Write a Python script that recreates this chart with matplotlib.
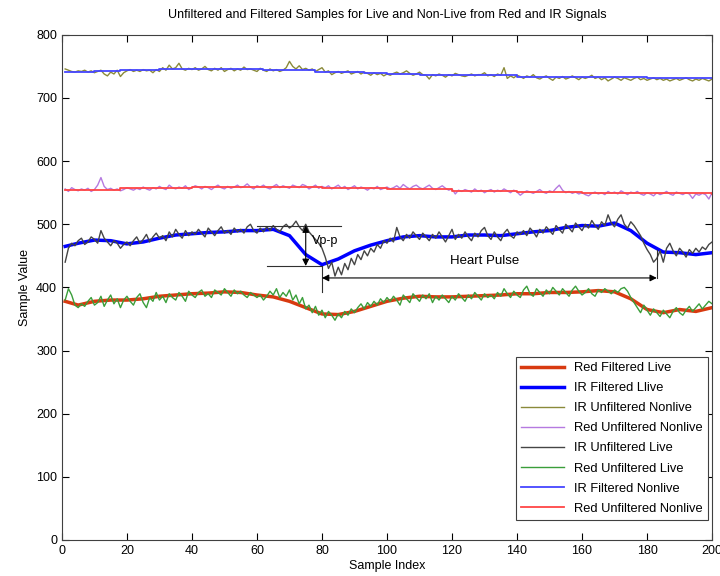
import numpy as np
import matplotlib
matplotlib.use('Agg')
import matplotlib.pyplot as plt

plt.rcParams['font.family'] = ['Liberation Sans', 'DejaVu Sans']

# サンプル番号
sample_idx = np.arange(1, 201)
filt_idx = np.array([1] + list(range(5, 201, 5)))

# フィルタ後 (Live)
red_filt_live = [378, 372, 378, 380, 380, 382, 386, 388, 390, 391, 393, 392, 388, 385,
                 378, 368, 358, 357, 362, 370, 378, 383, 386, 385, 385, 386, 387, 388,
                 390, 390, 392, 392, 393, 395, 393, 382, 365, 360, 365, 362, 368]
ir_filt_live = [465, 470, 475, 474, 469, 472, 478, 483, 485, 487, 488, 490, 490, 492,
                482, 452, 436, 445, 458, 467, 474, 480, 482, 480, 480, 483, 483, 482,
                485, 488, 490, 495, 498, 497, 502, 490, 470, 456, 455, 452, 455]

# フィルタ後 (Nonlive) 階段状
ir_filt_nonlive_idx = [1, 10, 18, 30, 45, 62, 70, 78, 93, 100, 110, 125, 140, 160, 180, 200]
ir_filt_nonlive = [741, 742, 745, 746, 746, 745, 744, 741, 739, 738, 737, 736, 734, 733, 732, 731]
red_filt_nonlive_idx = [1, 18, 27, 40, 60, 80, 100, 120, 140, 160, 180, 200]
red_filt_nonlive = [555, 557, 558, 559, 559, 558, 556, 553, 551, 549, 549, 548]

# フィルタ前
ir_unfilt_nonlive = [
    746, 744, 742, 741, 743, 742, 744, 741, 743, 740, 742, 744, 738, 735, 741, 738, 744, 734, 740, 743,
    745, 742, 744, 742, 745, 743, 744, 740, 745, 742, 748, 744, 752, 746, 748, 755, 746, 744, 747, 745,
    748, 744, 746, 750, 745, 743, 747, 744, 748, 742, 745, 747, 743, 746, 744, 749, 745, 746, 744, 742,
    747, 744, 742, 746, 743, 745, 742, 744, 748, 758, 750, 746, 751, 745, 747, 744, 746, 742, 745, 748,
    741, 743, 737, 740, 742, 739, 741, 743, 738, 740, 742, 738, 741, 739, 736, 740, 737, 739, 735, 738,
    736, 739, 741, 738, 740, 743, 739, 736, 738, 741, 737, 736, 730, 737, 735, 738, 736, 733, 737, 735,
    739, 737, 735, 734, 736, 738, 735, 737, 737, 740, 735, 737, 734, 738, 736, 748, 731, 735, 732, 736,
    734, 731, 735, 733, 737, 732, 730, 733, 735, 731, 728, 733, 731, 734, 730, 732, 735, 732, 729, 733,
    731, 733, 736, 731, 733, 729, 732, 727, 730, 733, 731, 728, 732, 730, 728, 731, 733, 729, 731, 728,
    730, 732, 729, 731, 728, 730, 727, 729, 731, 728, 730, 732, 729, 727, 730, 728, 731, 729, 727, 730]
red_unfilt_nonlive = [
    556, 552, 558, 555, 553, 556, 554, 557, 552, 555, 562, 574, 560, 555, 557, 554, 556, 553, 555, 558,
    556, 554, 557, 555, 559, 556, 554, 558, 556, 560, 557, 555, 562, 558, 556, 559, 557, 561, 555, 558,
    561, 559, 556, 560, 558, 555, 559, 562, 558, 556, 560, 557, 559, 562, 558, 560, 564, 559, 556, 561,
    559, 562, 558, 556, 560, 563, 558, 561, 559, 557, 562, 560, 558, 563, 561, 556, 559, 562, 557, 560,
    558, 561, 556, 559, 562, 557, 560, 555, 558, 561, 556, 559, 557, 554, 558, 556, 560, 555, 557, 559,
    556, 558, 561, 557, 563, 559, 556, 560, 562, 558, 556, 559, 562, 557, 555, 558, 561, 557, 554, 556,
    548, 554, 552, 555, 553, 551, 556, 552, 554, 550, 553, 555, 551, 554, 552, 556, 553, 550, 554, 551,
    546, 550, 553, 551, 549, 552, 555, 551, 549, 553, 551, 557, 562, 554, 550, 552, 549, 551, 548, 550,
    547, 545, 549, 551, 548, 550, 547, 552, 549, 551, 548, 553, 550, 547, 551, 549, 552, 548, 546, 550,
    548, 545, 550, 547, 549, 552, 548, 546, 551, 549, 547, 550, 548, 541, 548, 546, 549, 547, 540, 550]
ir_unfilt_live = [
    440, 462, 470, 466, 474, 478, 468, 472, 480, 476, 470, 490, 478, 472, 466, 474, 470, 462, 468, 472,
    466, 474, 480, 470, 476, 484, 472, 480, 486, 478, 482, 474, 488, 480, 492, 484, 478, 490, 482, 488,
    484, 492, 486, 480, 494, 488, 482, 490, 496, 486, 490, 484, 494, 488, 492, 486, 496, 500, 490, 486,
    494, 488, 496, 490, 498, 492, 488, 496, 500, 494, 498, 505, 496, 490, 500, 488, 482, 476, 470, 462,
    448, 430, 440, 418, 432, 420, 438, 428, 446, 436, 452, 444, 458, 450, 462, 456, 468, 462, 474, 470,
    478, 472, 495, 480, 474, 484, 478, 488, 482, 476, 486, 480, 474, 484, 478, 488, 480, 472, 482, 492,
    476, 484, 478, 488, 480, 474, 486, 480, 490, 495, 482, 476, 488, 480, 474, 486, 492, 482, 478, 488,
    484, 490, 482, 494, 488, 480, 492, 486, 496, 490, 484, 498, 492, 486, 500, 494, 488, 502, 496, 490,
    500, 494, 506, 498, 492, 504, 498, 515, 502, 496, 508, 515, 500, 494, 504, 498, 490, 482, 470, 460,
    452, 440, 446, 458, 440, 462, 470, 458, 450, 462, 456, 448, 460, 454, 462, 456, 464, 460, 468, 472]
red_unfilt_live = [
    380, 398, 388, 372, 368, 374, 370, 378, 384, 372, 376, 386, 370, 380, 388, 374, 382, 368, 380, 386,
    378, 372, 384, 390, 376, 368, 384, 378, 392, 380, 386, 376, 390, 384, 380, 392, 386, 378, 394, 388,
    384, 392, 396, 386, 390, 384, 396, 392, 388, 398, 392, 386, 396, 390, 394, 388, 384, 392, 388, 384,
    388, 380, 386, 394, 388, 398, 384, 392, 386, 396, 380, 388, 374, 384, 366, 372, 360, 370, 356, 364,
    352, 362, 356, 348, 358, 352, 362, 356, 366, 360, 368, 374, 366, 376, 370, 378, 372, 382, 376, 384,
    378, 386, 380, 372, 388, 382, 376, 390, 384, 378, 388, 382, 390, 376, 386, 380, 388, 382, 376, 386,
    380, 390, 384, 378, 388, 382, 392, 386, 380, 390, 384, 388, 382, 392, 386, 398, 390, 384, 394, 388,
    384, 396, 402, 390, 386, 398, 392, 386, 396, 390, 400, 394, 388, 398, 392, 386, 396, 402, 394, 388,
    392, 398, 390, 386, 396, 392, 398, 394, 390, 396, 392, 398, 400, 394, 384, 376, 368, 360, 372, 364,
    356, 366, 360, 354, 364, 358, 352, 362, 368, 360, 356, 364, 370, 362, 368, 374, 366, 372, 378, 374]

fig = plt.figure(figsize=(7.2, 5.76), dpi=100)
ax = fig.add_axes([0.086, 0.0625, 0.903, 0.877])

ax.plot(filt_idx, red_filt_live, color='#d83a10', lw=2.5, label='Red Filtered Live')
ax.plot(filt_idx, ir_filt_live, color='#0000ff', lw=2.5, label='IR Filtered Llive')
ax.plot(sample_idx, ir_unfilt_nonlive, color='#8a8a3a', lw=1, label='IR Unfiltered Nonlive')
ax.plot(sample_idx, red_unfilt_nonlive, color='#b57ae0', lw=1, label='Red Unfiltered Nonlive')
ax.plot(sample_idx, ir_unfilt_live, color='#454545', lw=1, label='IR Unfiltered Live')
ax.plot(sample_idx, red_unfilt_live, color='#3a9e3a', lw=1, label='Red Unfiltered Live')
ax.plot(ir_filt_nonlive_idx, ir_filt_nonlive, color='#4545ff', lw=1.3, drawstyle='steps-post',
        label='IR Filtered Nonlive')
ax.plot(red_filt_nonlive_idx, red_filt_nonlive, color='#ff4545', lw=1.3, drawstyle='steps-post',
        label='Red Unfiltered Nonlive')

# 注釈 (Vp-p, Heart Pulse)
ax.plot([60, 86], [498, 498], color='#303030', lw=0.8)
ax.plot([63, 80], [434, 434], color='#303030', lw=0.8)
ax.plot([80, 80], [434, 393], color='#303030', lw=0.8)
ax.plot([183, 183], [415, 460], color='#303030', lw=0.8)
ax.annotate('', xy=(75, 434), xytext=(75, 498),
            arrowprops=dict(arrowstyle='<|-|>', color='black', lw=0.8, shrinkA=0, shrinkB=0))
ax.annotate('', xy=(80, 415), xytext=(183, 415),
            arrowprops=dict(arrowstyle='<|-|>', color='black', lw=0.8, shrinkA=0, shrinkB=0))
ax.text(77, 474, 'Vp-p', fontsize=9, va='center', ha='left')
ax.text(130, 442, 'Heart Pulse', fontsize=9.5, va='center', ha='center')

ax.set_xlim(0, 200)
ax.set_ylim(0, 800)
ax.set_xticks(range(0, 201, 20))
ax.set_yticks(range(0, 801, 100))
ax.tick_params(direction='in', length=5, top=True, right=True, labelsize=9)
for s in ax.spines.values():
    s.set_color('#404040')
ax.set_xlabel('Sample Index', fontsize=9, labelpad=2)
ax.set_ylabel('Sample Value', fontsize=9)
ax.set_title('Unfiltered and Filtered Samples for Live and Non-Live from Red and IR Signals',
             fontsize=9, pad=12)

leg = ax.legend(loc='lower right', bbox_to_anchor=(0.994, 0.04), borderaxespad=0,
                fontsize=9.3, fancybox=False, framealpha=1, edgecolor='#404040',
                handlelength=3.3, labelspacing=0.62)
leg.get_frame().set_linewidth(0.8)

plt.savefig('out.png')
